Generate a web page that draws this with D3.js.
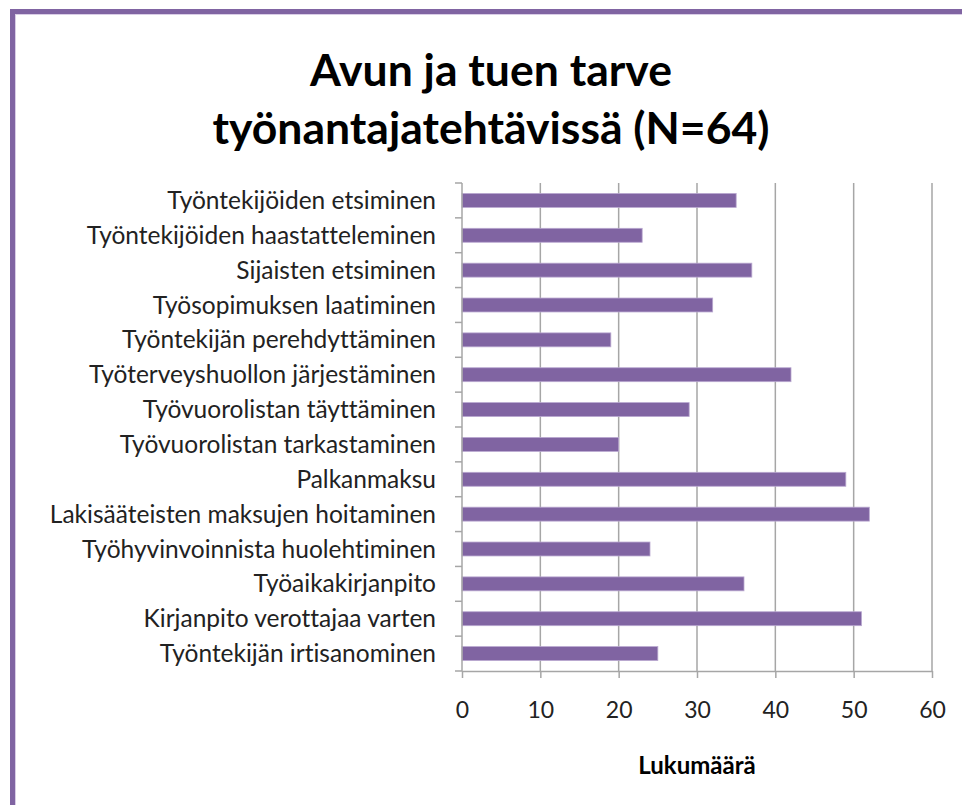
<!DOCTYPE html>
<html>
  <head>
    <meta charset="utf-8">
    <style>
      body { margin: 0; background: #fff; }
      svg { display: block; font-family: Lato, "Open Sans", sans-serif; font-variant-ligatures: none; }
      .grid line { stroke: #a6a6a6; stroke-width: 1.5px; }
      .axis path, .axis line { stroke: #a6a6a6; stroke-width: 1.5px; }
      .axis text { fill: #222; }
    </style>
  </head>
  <body>
    <svg width="962" height="805"></svg>
    <script src="https://d3js.org/d3.v7.min.js"></script>
    <script>
      var categories = [
        "Työntekijöiden etsiminen",
        "Työntekijöiden haastatteleminen",
        "Sijaisten etsiminen",
        "Työsopimuksen laatiminen",
        "Työntekijän perehdyttäminen",
        "Työterveyshuollon järjestäminen",
        "Työvuorolistan täyttäminen",
        "Työvuorolistan tarkastaminen",
        "Palkanmaksu",
        "Lakisääteisten maksujen hoitaminen",
        "Työhyvinvoinnista huolehtiminen",
        "Työaikakirjanpito",
        "Kirjanpito verottajaa varten",
        "Työntekijän irtisanominen"
      ];
      var counts = [35, 23, 37, 32, 19, 42, 29, 20, 49, 52, 24, 36, 51, 25];
      var xTicks = [0, 10, 20, 30, 40, 50, 60];
      var titleLines = ["Avun ja tuen tarve", "työnantajatehtävissä (N=64)"];
      var xTitle = "Lukumäärä";

      var svg = d3.select("svg");
      var plotLeft = 462, plotRight = 932, plotTop = 183, plotBottom = 671;

      // purple frame
      svg.append("rect").attr("x", 10).attr("y", 9).attr("width", 960).attr("height", 5).attr("fill", "#8064a2");
      svg.append("rect").attr("x", 10).attr("y", 9).attr("width", 5).attr("height", 800).attr("fill", "#8064a2");
      svg.append("line").attr("x1", 15).attr("x2", 962).attr("y1", 14.5).attr("y2", 14.5).attr("stroke", "#d9cde6");
      svg.append("line").attr("x1", 15.5).attr("x2", 15.5).attr("y1", 14).attr("y2", 805).attr("stroke", "#d9cde6");

      var x = d3.scaleLinear().domain([0, 60]).range([plotLeft, plotRight]);
      var y = d3.scaleBand().domain(categories).range([plotTop, plotBottom]).paddingInner(0.6).paddingOuter(0.3);
      var yb = d3.scaleBand().domain(categories).range([plotTop, plotBottom]);

      // title
      svg.append("g").selectAll("text")
        .data(titleLines)
        .enter().append("text")
        .attr("x", 491)
        .attr("y", function(d, i) { return 86 + i * 58; })
        .attr("text-anchor", "middle")
        .attr("font-size", 44.5)
        .attr("font-weight", "bold")
        .attr("fill", "#000")
        .text(function(d) { return d; });

      // vertical gridlines
      svg.append("g").attr("class", "grid")
        .selectAll("line")
        .data(xTicks.slice(1))
        .enter().append("line")
        .attr("x1", function(d) { return x(d); })
        .attr("x2", function(d) { return x(d); })
        .attr("y1", plotTop)
        .attr("y2", plotBottom);

      // bars
      svg.append("g").selectAll("rect")
        .data(counts)
        .enter().append("rect")
        .attr("x", x(0))
        .attr("y", function(d, i) { return y(categories[i]); })
        .attr("width", function(d) { return x(d) - x(0); })
        .attr("height", y.bandwidth())
        .attr("fill", "#8064a2")
        .attr("stroke", "#b9a8d0")
        .attr("stroke-width", 0.8);

      // x axis
      var xAxis = svg.append("g").attr("class", "axis")
        .attr("transform", "translate(0," + plotBottom + ")")
        .call(d3.axisBottom(x).tickValues(xTicks).tickSize(7).tickSizeOuter(0).tickPadding(24));
      xAxis.selectAll("text").attr("font-size", 23).attr("font-family", "Lato, sans-serif");

      // y axis with ticks at band boundaries
      var yAxis = svg.append("g").attr("class", "axis");
      yAxis.append("line").attr("x1", plotLeft).attr("x2", plotLeft).attr("y1", plotTop).attr("y2", plotBottom);
      yAxis.selectAll(".tk")
        .data(categories.concat([null]))
        .enter().append("line")
        .attr("class", "tk")
        .attr("x1", plotLeft - 7).attr("x2", plotLeft)
        .attr("y1", function(d, i) { return plotTop + i * yb.step(); })
        .attr("y2", function(d, i) { return plotTop + i * yb.step(); });
      yAxis.selectAll("text")
        .data(categories)
        .enter().append("text")
        .attr("x", 436)
        .attr("y", function(d) { return yb(d) + yb.bandwidth() / 2; })
        .attr("dy", "0.35em")
        .attr("text-anchor", "end")
        .attr("font-size", 24.5)
        .text(function(d) { return d; });

      // x axis title
      svg.append("text")
        .attr("x", 697)
        .attr("y", 774)
        .attr("text-anchor", "middle")
        .attr("font-size", 24)
        .attr("font-weight", "bold")
        .attr("fill", "#000")
        .text(xTitle);
    </script>
  </body>
</html>
